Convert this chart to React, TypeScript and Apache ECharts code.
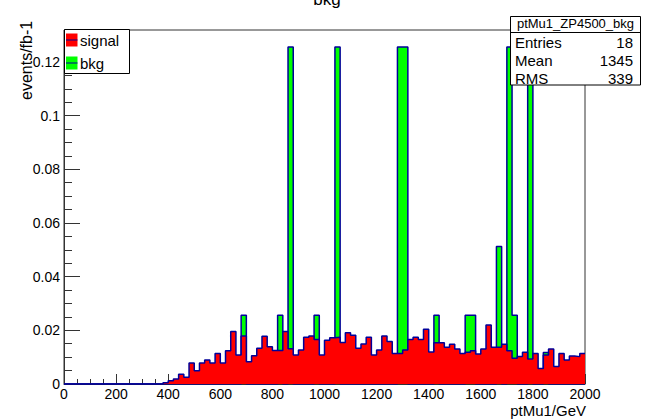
import React, { useEffect, useRef } from "react";
import * as echarts from "echarts";

// Histogram: 100 bins of 20 GeV from 0 to 2000
const BIN_START = 0;
const BIN_WIDTH = 20;
const X_MIN = 0;
const X_MAX = 2000;
const Y_MAX = 0.1319;

const signalValues: number[] = [
  0, 0, 0, 0, 0, 0, 0, 0, 0, 0,
  0, 0, 0, 0, 0, 0, 0, 0, 0, 0.0005,
  0.0012, 0.0019, 0.0036, 0.0025, 0.0078, 0.0049, 0.0078, 0.0089, 0.0078, 0.0114,
  0.0078, 0.0124, 0.0196, 0.0108, 0.0179, 0.0083, 0.0105, 0.0133, 0.0178, 0.0139,
  0.0125, 0.0125, 0.0196, 0.0131, 0.0108, 0.0127, 0.0174, 0.0179, 0.0166, 0.0108,
  0.0163, 0.0172, 0.0174, 0.0155, 0.0191, 0.0182, 0.0133, 0.0149, 0.0174, 0.0108,
  0.0127, 0.0179, 0.0158, 0.0114, 0.0114, 0.0127, 0.0166, 0.0174, 0.0166, 0.0204,
  0.0119, 0.0154, 0.0154, 0.0137, 0.0148, 0.0130, 0.0114, 0.0118, 0.0124, 0.0112,
  0.0130, 0.0220, 0.0137, 0.0137, 0.0148, 0.0124, 0.0096, 0.0102, 0.0118, 0.0093,
  0.0114, 0.0058, 0.0108, 0.0130, 0.0065, 0.0114, 0.0089, 0.0104, 0.0102, 0.0114,
];

const bkgValues: number[] = [
  0, 0, 0, 0, 0, 0, 0, 0, 0, 0,
  0, 0, 0, 0, 0, 0, 0, 0, 0, 0,
  0, 0, 0, 0, 0, 0, 0, 0, 0, 0,
  0, 0, 0, 0, 0.0256, 0, 0, 0, 0, 0,
  0, 0.0256, 0, 0.1256, 0, 0, 0, 0, 0.0256, 0,
  0, 0, 0.1256, 0, 0, 0, 0, 0, 0, 0,
  0, 0, 0, 0, 0.1256, 0.1256, 0, 0, 0, 0,
  0, 0.0256, 0, 0, 0, 0, 0, 0.0256, 0.0256, 0,
  0, 0, 0, 0.0512, 0, 0.1256, 0.0256, 0, 0, 0.1256,
  0, 0, 0.0117, 0, 0, 0, 0, 0, 0, 0,
];

const statsTitle = "ptMu1_ZP4500_bkg";
const statsRows: [string, string][] = [
  ["Entries", "18"],
  ["Mean", "1345"],
  ["RMS", "339"],
];
const legendItems: { name: string; color: string }[] = [
  { name: "signal", color: "#ff0000" },
  { name: "bkg", color: "#00ff00" },
];

function toSteps(values: number[]): [number, number][] {
  const pts: [number, number][] = values.map((v, i) => [BIN_START + i * BIN_WIDTH, v]);
  pts.push([BIN_START + values.length * BIN_WIDTH, values[values.length - 1]]);
  return pts;
}

const FONT = "Liberation Sans, Arial, sans-serif";
const OUTLINE = "#000099";

export default function App() {
  const ref = useRef<HTMLDivElement>(null);
  useEffect(() => {
    document.body.style.margin = "0";
    if (!ref.current) return;
    const chart = echarts.init(ref.current, undefined, { renderer: "svg" });

    const gL = 64, gT = 30, gR = 585, gB = 384;
    const graphic: any[] = [];
    // Title (cut at the top edge, as in the reference)
    graphic.push({
      type: "text", x: 327, y: -1, z: 100,
      style: { text: "bkg", font: `17px ${FONT}`, fill: "#000", align: "center", verticalAlign: "middle" },
    });
    // Y title
    graphic.push({
      type: "text", x: 26, y: 100, rotation: Math.PI / 2, z: 100,
      style: { text: "events/fb-1", font: `16px ${FONT}`, fill: "#000", align: "left", verticalAlign: "middle" },
    });
    // X title
    graphic.push({
      type: "text", x: 586, y: 410, z: 100,
      style: { text: "ptMu1/GeV", font: `15px ${FONT}`, fill: "#000", align: "right", verticalAlign: "middle" },
    });
    // Legend
    const lx = 64.5, ly = 29.5, lw = 65, lh = 44;
    graphic.push({
      type: "rect", z: 100, shape: { x: lx, y: ly, width: lw, height: lh },
      style: { fill: "#fff", stroke: "#000", lineWidth: 1 },
    });
    legendItems.forEach((it, i) => {
      const cy = 40 + i * 23;
      graphic.push({
        type: "rect", z: 101, shape: { x: 66, y: cy - 6.5, width: 11.5, height: 13 },
        style: { fill: it.color },
      });
      graphic.push({
        type: "line", z: 102, shape: { x1: 66, y1: cy, x2: 77.5, y2: cy },
        style: { stroke: OUTLINE, lineWidth: 1 },
      });
      graphic.push({
        type: "text", x: 80, y: cy, z: 102,
        style: { text: it.name, font: `15px ${FONT}`, fill: "#000", align: "left", verticalAlign: "middle" },
      });
    });
    // Stats box
    const sx = 510.5, sy = 16.5, sw = 130, sh = 68.5;
    graphic.push({
      type: "rect", z: 100, shape: { x: sx, y: sy, width: sw, height: sh },
      style: { fill: "#fff", stroke: "#000", lineWidth: 1 },
    });
    graphic.push({
      type: "line", z: 101, shape: { x1: sx, y1: 32.5, x2: sx + sw, y2: 32.5 },
      style: { stroke: "#000", lineWidth: 1 },
    });
    graphic.push({
      type: "text", x: sx + sw / 2, y: 23.5, z: 103,
      style: { text: statsTitle, font: `13px ${FONT}`, fill: "#000", align: "center", verticalAlign: "middle" },
    });
    statsRows.forEach((r, i) => {
      const cy = 42 + i * 18;
      graphic.push({
        type: "text", x: 515, y: cy, z: 101,
        style: { text: r[0], font: `15px ${FONT}`, fill: "#000", align: "left", verticalAlign: "middle" },
      });
      graphic.push({
        type: "text", x: 633, y: cy, z: 101,
        style: { text: r[1], font: `15px ${FONT}`, fill: "#000", align: "right", verticalAlign: "middle" },
      });
    });

    chart.setOption({
      animation: false,
      backgroundColor: "#fff",
      grid: {
        left: gL, top: gT, width: gR - gL, height: gB - gT,
        show: true, borderColor: "#333", borderWidth: 1, backgroundColor: "transparent",
      },
      xAxis: {
        type: "value", min: X_MIN, max: X_MAX, interval: 200,
        axisLine: { show: true, onZero: false, lineStyle: { color: "#333", width: 1 } },
        axisTick: { show: true, inside: true, length: 10, lineStyle: { color: "#333" } },
        minorTick: { show: true, splitNumber: 4, length: 5, lineStyle: { color: "#333" } },
        axisLabel: {
          color: "#000", fontSize: 14, fontFamily: FONT, margin: 3,
          formatter: (v: number) => String(Math.round(v)),
        },
        splitLine: { show: false },
      },
      yAxis: {
        type: "value", min: 0, max: Y_MAX, interval: 0.02,
        axisLine: { show: true, lineStyle: { color: "#333", width: 1 } },
        axisTick: { show: true, inside: true, length: 16, lineStyle: { color: "#333" } },
        minorTick: { show: true, splitNumber: 4, length: 8, lineStyle: { color: "#333" } },
        axisLabel: {
          color: "#000", fontSize: 14, fontFamily: FONT, margin: 4, showMaxLabel: false,
          formatter: (v: number) => (v === 0 ? "0" : String(+v.toFixed(3))),
        },
        splitLine: { show: false },
      },
      series: [
        {
          type: "line", name: "bkg", data: toSteps(bkgValues), step: "end",
          symbol: "none", showSymbol: false, z: 2,
          lineStyle: { color: OUTLINE, width: 1.5 },
          areaStyle: { color: "#00ff00", opacity: 1 },
        },
        {
          type: "line", name: "signal", data: toSteps(signalValues), step: "end",
          symbol: "none", showSymbol: false, z: 3,
          lineStyle: { color: OUTLINE, width: 1.5 },
          areaStyle: { color: "#ff0000", opacity: 1 },
        },
      ],
      graphic,
    });
    return () => chart.dispose();
  }, []);
  return <div ref={ref} style={{ width: 646, height: 420 }} />;
}
